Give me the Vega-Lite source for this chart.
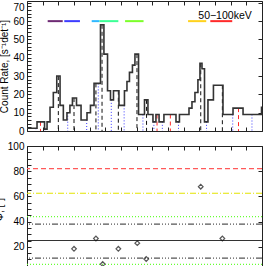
{
  "$schema": "https://vega.github.io/schema/vega-lite/v6.json",
  "autosize": "none",
  "padding": {"left": 27, "top": 1, "right": 239, "bottom": 265},
  "spacing": 3,
  "background": "white",
  "config": {
    "view": {"stroke": "#222222", "strokeWidth": 1},
    "axis": {
      "domain": false, "grid": false,
      "labelFont": "Liberation Sans", "labelFontSize": 10, "labelColor": "#000000",
      "titleFont": "Liberation Sans", "titleFontSize": 10, "titleFontWeight": "normal", "titleColor": "#000000",
      "tickColor": "#222222", "labelPadding": 7
    }
  },
  "datasets": {
    "hist": [
      {"t": 0.00, "c": 1.5}, {"t": 0.64, "c": 5}, {"t": 1.12, "c": 1}, {"t": 1.28, "c": 5},
      {"t": 1.47, "c": 13}, {"t": 1.68, "c": 21}, {"t": 1.90, "c": 30}, {"t": 2.11, "c": 14},
      {"t": 2.32, "c": 6}, {"t": 2.55, "c": 10}, {"t": 2.74, "c": 14}, {"t": 2.90, "c": 18},
      {"t": 3.16, "c": 14}, {"t": 3.45, "c": 6}, {"t": 3.83, "c": 10}, {"t": 4.05, "c": 14},
      {"t": 4.28, "c": 26}, {"t": 4.69, "c": 58}, {"t": 4.91, "c": 42}, {"t": 5.14, "c": 22},
      {"t": 5.33, "c": 17}, {"t": 5.52, "c": 22}, {"t": 5.87, "c": 14}, {"t": 6.22, "c": 22},
      {"t": 6.38, "c": 27}, {"t": 6.54, "c": 32}, {"t": 6.73, "c": 36}, {"t": 6.89, "c": 42},
      {"t": 7.12, "c": 9}, {"t": 7.50, "c": 17}, {"t": 7.72, "c": 9}, {"t": 8.04, "c": 5},
      {"t": 8.23, "c": 9}, {"t": 8.43, "c": 5}, {"t": 8.74, "c": 9}, {"t": 9.51, "c": 5},
      {"t": 9.73, "c": 9}, {"t": 10.34, "c": 12.5}, {"t": 10.53, "c": 16}, {"t": 10.72, "c": 21},
      {"t": 10.91, "c": 28}, {"t": 11.04, "c": 37}, {"t": 11.17, "c": 34}, {"t": 11.33, "c": 5},
      {"t": 11.55, "c": 17}, {"t": 11.90, "c": 25}, {"t": 12.51, "c": 9}, {"t": 13.15, "c": 12.5},
      {"t": 13.79, "c": 9}, {"t": 14.97, "c": 13}, {"t": 15.00, "c": 13}
    ],
    "markers": [
      {"t": 2.00, "top": 30, "kind": "black"}, {"t": 3.00, "top": 18, "kind": "black"},
      {"t": 4.40, "top": 26, "kind": "black"}, {"t": 4.79, "top": 58, "kind": "black"},
      {"t": 5.83, "top": 22, "kind": "black"}, {"t": 7.02, "top": 42, "kind": "black"},
      {"t": 7.63, "top": 17, "kind": "black"}, {"t": 11.09, "top": 37, "kind": "black"},
      {"t": 12.47, "top": 25, "kind": "black"},
      {"t": 0.57, "top": 1.5, "kind": "blue"}, {"t": 1.15, "top": 1, "kind": "blue"},
      {"t": 2.60, "top": 10, "kind": "blue"}, {"t": 3.81, "top": 6, "kind": "blue"},
      {"t": 4.55, "top": 26, "kind": "blue"}, {"t": 5.38, "top": 17, "kind": "blue"},
      {"t": 6.20, "top": 14, "kind": "blue"}, {"t": 7.40, "top": 9, "kind": "blue"},
      {"t": 8.10, "top": 5, "kind": "blue"}, {"t": 8.64, "top": 5, "kind": "blue"},
      {"t": 9.67, "top": 5, "kind": "blue"}, {"t": 11.46, "top": 5, "kind": "blue"},
      {"t": 13.13, "top": 9, "kind": "blue"}, {"t": 14.36, "top": 9, "kind": "blue"},
      {"t": 0.86, "top": 5, "kind": "red"}, {"t": 8.30, "top": 9, "kind": "red"},
      {"t": 9.15, "top": 9, "kind": "red"}, {"t": 13.50, "top": 12.5, "kind": "red"}
    ],
    "bands": [
      {"t1": 1.32, "t2": 2.28, "level": 60, "band": "b1"},
      {"t1": 2.38, "t2": 3.38, "level": 60, "band": "b2"},
      {"t1": 4.13, "t2": 4.63, "level": 60, "band": "b3"},
      {"t1": 4.63, "t2": 5.83, "level": 60, "band": "b4"},
      {"t1": 6.26, "t2": 7.44, "level": 60, "band": "b5"},
      {"t1": 10.28, "t2": 11.44, "level": 60, "band": "b6"},
      {"t1": 11.70, "t2": 13.10, "level": 60, "band": "b7"}
    ],
    "label": [{"t": 12.64, "c": 61, "text": "50−100keV"}],
    "angles": [
      {"t": 3.00, "a": 18.4}, {"t": 4.40, "a": 26.6}, {"t": 4.83, "a": 6.3}, {"t": 5.83, "a": 18.4},
      {"t": 7.04, "a": 22.9}, {"t": 7.61, "a": 10.3}, {"t": 11.09, "a": 67.7}, {"t": 12.47, "a": 26.6}
    ],
    "levels": [
      {"a": 82, "kind": "red"}, {"a": 62.5, "kind": "yellow"}, {"a": 44, "kind": "green"},
      {"a": 38, "kind": "gray"}, {"a": 25, "kind": "solid"}, {"a": 11, "kind": "gray"},
      {"a": 6, "kind": "green"}
    ]
  },
  "resolve": {"scale": {"color": "independent", "strokeDash": "independent"}},
  "vconcat": [
    {
      "width": 235, "height": 130,
      "layer": [
        {
          "data": {"name": "markers"},
          "mark": {"type": "rule", "strokeWidth": 1},
          "encoding": {
            "x": {"field": "t", "type": "quantitative",
              "scale": {"domain": [0, 15], "nice": false, "zero": false},
              "axis": {"orient": "bottom", "values": [0,1,2,3,4,5,6,7,8,9,10,11,12,13,14,15], "labels": false, "title": null, "tickSize": -4}},
            "y": {"field": "top", "type": "quantitative",
              "scale": {"domain": [0, 71], "nice": false},
              "axis": {"orient": "left", "values": [0,2,4,6,8,10,12,14,16,18,20,22,24,26,28,30,32,34,36,38,40,42,44,46,48,50,52,54,56,58,60,62,64,66,68,70],
                "labelExpr": "datum.value % 10 === 0 ? datum.label : ''",
                "labelBaseline": {"condition": {"test": "datum.value === 70", "value": "top"}, "value": "middle"},
                "tickSize": -4, "title": "Count Rate, [s⁻¹det⁻¹]", "titlePadding": 3}},
            "y2": {"datum": 0},
            "color": {"field": "kind", "type": "nominal", "legend": null,
              "scale": {"domain": ["black", "blue", "red"], "range": ["#111111", "#3a3aff", "#ff2a2a"]}},
            "strokeDash": {"field": "kind", "type": "nominal", "legend": null,
              "scale": {"domain": ["black", "blue", "red"], "range": [[4, 3], [1, 2], [4, 3]]}}
          }
        },
        {
          "data": {"name": "hist"},
          "mark": {"type": "line", "interpolate": "step-after", "color": "#333333", "strokeWidth": 1.6},
          "encoding": {
            "x": {"field": "t", "type": "quantitative",
              "axis": {"orient": "top", "values": [0,1,2,3,4,5,6,7,8,9,10,11,12,13,14,15], "labels": false, "title": null, "tickSize": -4}},
            "y": {"field": "c", "type": "quantitative",
              "axis": {"orient": "right", "values": [0,10,20,30,40,50,60,70], "labels": false, "title": null, "tickSize": -4}}
          }
        },
        {
          "data": {"name": "bands"},
          "mark": {"type": "rule", "strokeWidth": 2},
          "encoding": {
            "x": {"field": "t1", "type": "quantitative", "axis": null},
            "x2": {"field": "t2"},
            "y": {"field": "level", "type": "quantitative", "axis": null},
            "color": {"field": "band", "type": "nominal", "legend": null,
              "scale": {"domain": ["b1","b2","b3","b4","b5","b6","b7"],
                "range": ["#6e2a74", "#3c3cff", "#30b8ff", "#3cff96", "#7cff2a", "#ffd21e", "#ff2a2a"]}}
          }
        },
        {
          "data": {"name": "label"},
          "mark": {"type": "text", "font": "Liberation Sans", "fontSize": 10.5, "color": "#000000", "align": "center", "baseline": "alphabetic"},
          "encoding": {
            "x": {"field": "t", "type": "quantitative", "axis": null},
            "y": {"field": "c", "type": "quantitative", "axis": null},
            "text": {"field": "text"}
          }
        }
      ],
      "resolve": {
        "scale": {"color": "independent", "strokeDash": "independent"},
        "axis": {"x": "independent", "y": "independent"}
      }
    },
    {
      "width": 235, "height": 126,
      "layer": [
        {
          "data": {"name": "levels"},
          "mark": {"type": "rule", "strokeWidth": 1.2},
          "encoding": {
            "y": {"field": "a", "type": "quantitative",
              "scale": {"domain": [0, 100], "nice": false},
              "axis": {"orient": "left", "values": [0,5,10,15,20,25,30,35,40,45,50,55,60,65,70,75,80,85,90,95,100],
                "labelExpr": "datum.value % 20 === 0 ? datum.label : ''",
                "tickSize": -4, "title": "Φ, [°]", "titlePadding": 3}},
            "color": {"field": "kind", "type": "nominal", "legend": null,
              "scale": {"domain": ["red", "yellow", "green", "gray", "solid"], "range": ["#ff5a5a", "#e4e400", "#66ff33", "#555555", "#333333"]}},
            "strokeDash": {"field": "kind", "type": "nominal", "legend": null,
              "scale": {"domain": ["red", "yellow", "green", "gray", "solid"], "range": [[5, 3], [6, 2, 1, 2], [1, 2], [6, 2, 1, 2, 1, 2, 1, 2], [1, 0]]}}
          }
        },
        {
          "data": {"name": "angles"},
          "mark": {"type": "point", "shape": "diamond", "filled": false, "color": "#111111", "size": 22, "strokeWidth": 1.2},
          "encoding": {
            "x": {"field": "t", "type": "quantitative",
              "scale": {"domain": [0, 15], "nice": false, "zero": false},
              "axis": {"orient": "bottom", "values": [0,1,2,3,4,5,6,7,8,9,10,11,12,13,14,15], "labels": false, "title": null, "tickSize": -4}},
            "y": {"field": "a", "type": "quantitative",
              "axis": {"orient": "right", "values": [0,20,40,60,80,100], "labels": false, "title": null, "tickSize": -4}}
          }
        },
        {
          "data": {"name": "angles"},
          "mark": {"type": "point", "opacity": 0},
          "encoding": {
            "x": {"field": "t", "type": "quantitative",
              "axis": {"orient": "top", "values": [0,1,2,3,4,5,6,7,8,9,10,11,12,13,14,15], "labels": false, "title": null, "tickSize": -4}},
            "y": {"field": "a", "type": "quantitative", "axis": null}
          }
        }
      ],
      "resolve": {
        "scale": {"color": "independent", "strokeDash": "independent"},
        "axis": {"x": "independent", "y": "independent"}
      }
    }
  ]
}
